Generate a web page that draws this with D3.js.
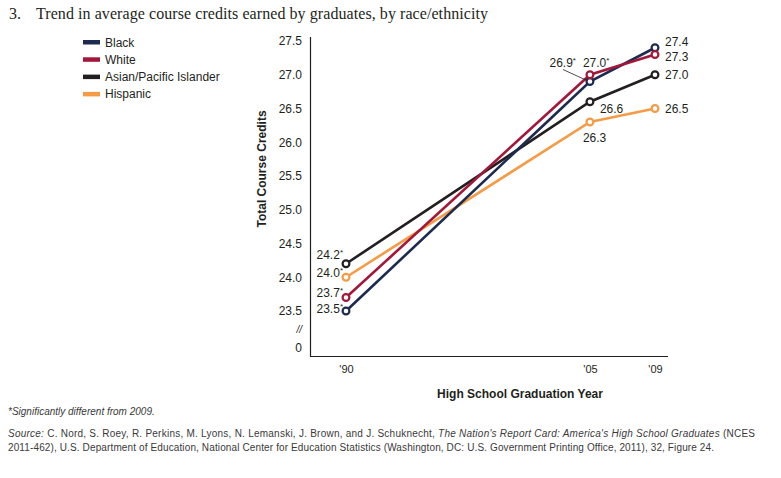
<!DOCTYPE html>
<html><head><meta charset="utf-8">
<script src="https://cdn.jsdelivr.net/npm/d3@7"></script>
<style>body{margin:0;background:#fff}svg{display:block}</style>
</head><body><svg id="c" width="781" height="478"></svg>
<script>
const years = [1990, 2005, 2009];
const yearLabels = ["'90", "'05", "'09"];
const seriesNames = ["Black", "White", "Asian/Pacific Islander", "Hispanic"];
const seriesColors = ["#1c2b4f", "#a3173a", "#231f20", "#f59b45"];
const black = [23.5, 26.9, 27.4];
const white = [23.7, 27.0, 27.3];
const asian = [24.2, 26.6, 27.0];
const hispanic = [24.0, 26.3, 26.5];
const significant = [[true, true, false], [true, true, false], [true, false, false], [true, false, false]];
const yTicks = [23.5, 24.0, 24.5, 25.0, 25.5, 26.0, 26.5, 27.0, 27.5];
const seriesValues = [black, white, asian, hispanic];

const svg = d3.select("#c");
const font = "'Liberation Sans', Arial, sans-serif";
const x = d3.scaleLinear().domain([1990, 2009]).range([346, 655]);
const y = d3.scaleLinear().domain([23.5, 27.5]).range([311, 41]);

// title
svg.append("text").attr("x", 9).attr("y", 19).attr("font-family", "'Liberation Serif', serif")
  .attr("font-size", 16).attr("fill", "#231f20").text("3.");
svg.append("text").attr("x", 36).attr("y", 19).attr("font-family", "'Liberation Serif', serif")
  .attr("font-size", 16).attr("fill", "#231f20").attr("textLength", 452)
  .text("Trend in average course credits earned by graduates, by race/ethnicity");

// legend
const lg = svg.append("g");
seriesNames.forEach((n, i) => {
  const yy = 42 + i * 17.3;
  lg.append("rect").attr("x", 83).attr("y", yy - 2).attr("width", 17).attr("height", 4.5).attr("fill", seriesColors[i]);
  lg.append("text").attr("x", 105).attr("y", yy + 4.5).attr("font-family", font).attr("font-size", 12)
    .attr("fill", "#231f20").text(n);
});

// axes
const axisY = svg.append("g").attr("transform", "translate(310,0)")
  .call(d3.axisLeft(y).tickValues(yTicks).tickFormat(d3.format(".1f")).tickSize(0).tickPadding(8));
axisY.select(".domain").remove();
axisY.selectAll("text").attr("font-family", font).attr("font-size", 12).attr("fill", "#231f20");
svg.append("line").attr("x1", 310.5).attr("x2", 310.5).attr("y1", 37).attr("y2", 356.5).attr("stroke", "#231f20").attr("stroke-width", 1.2);
svg.append("line").attr("x1", 310).attr("x2", 668).attr("y1", 356.5).attr("y2", 356.5).attr("stroke", "#231f20").attr("stroke-width", 1.2);
svg.append("text").attr("x", 302).attr("y", 333).attr("text-anchor", "end").attr("font-family", font)
  .attr("font-size", 10).attr("font-style", "italic").attr("fill", "#231f20").text("//");
svg.append("text").attr("x", 302).attr("y", 351.5).attr("text-anchor", "end").attr("font-family", font)
  .attr("font-size", 12).attr("fill", "#231f20").text("0");

const axisX = svg.append("g").attr("transform", "translate(0,356)")
  .call(d3.axisBottom(x).tickValues(years).tickFormat((d, i) => yearLabels[i]).tickSize(0).tickPadding(9));
axisX.select(".domain").remove();
axisX.selectAll("text").attr("font-family", font).attr("font-size", 11).attr("fill", "#231f20");

svg.append("text").attr("x", 520).attr("y", 398).attr("text-anchor", "middle").attr("font-family", font)
  .attr("font-size", 12).attr("font-weight", "bold").attr("fill", "#231f20").text("High School Graduation Year");
svg.append("text").attr("transform", "translate(266,169) rotate(-90)").attr("text-anchor", "middle")
  .attr("font-family", font).attr("font-size", 12).attr("font-weight", "bold").attr("fill", "#231f20")
  .text("Total Course Credits");

// lines
const line = d3.line().x((d, i) => x(years[i])).y(d => y(d));
const drawOrder = [3, 2, 0, 1];
drawOrder.forEach(s => {
  svg.append("path").datum(seriesValues[s]).attr("d", line).attr("fill", "none")
    .attr("stroke", seriesColors[s]).attr("stroke-width", 2.6);
});
drawOrder.forEach(s => {
  svg.selectAll(null).data(seriesValues[s]).enter().append("circle")
    .attr("cx", (d, i) => x(years[i])).attr("cy", d => y(d)).attr("r", 3.4)
    .attr("fill", "#fff").attr("stroke", seriesColors[s]).attr("stroke-width", 2.2);
});

// value labels: [series, index, dx, dy, anchor]
const labelSpecs = [
  [2, 0, -3, -5, "end"], [3, 0, -3, 0, "end"], [1, 0, -3, -1, "end"], [0, 0, -3, 2, "end"],
  [0, 1, -14, -15, "end"], [1, 1, -7, -8, "start"], [2, 1, 10, 11, "start"], [3, 1, -7, 20, "start"],
  [0, 2, 10, -2, "start"], [1, 2, 10, 6, "start"], [2, 2, 10, 4, "start"], [3, 2, 10, 4, "start"]
];
labelSpecs.forEach(([s, i, dx, dy, anchor]) => {
  const v = seriesValues[s][i];
  const t = svg.append("text").attr("x", x(years[i]) + dx).attr("y", y(v) + dy)
    .attr("text-anchor", anchor).attr("font-family", font).attr("font-size", 12).attr("fill", "#231f20");
  t.append("tspan").text(d3.format(".1f")(v));
  if (significant[s][i]) t.append("tspan").attr("font-size", 8).attr("dy", -4).text("*");
});
// leader for 26.9
svg.append("line").attr("x1", x(2005) - 27).attr("y1", y(26.9) - 12).attr("x2", x(2005) - 3).attr("y2", y(26.9) - 1)
  .attr("stroke", "#231f20").attr("stroke-width", 0.8);

// footnotes
svg.append("text").attr("x", 8).attr("y", 415).attr("font-family", font).attr("font-size", 10)
  .attr("font-style", "italic").attr("fill", "#3a3a3a").text("*Significantly different from 2009.");
const src = svg.append("text").attr("x", 8).attr("y", 437).attr("font-family", font).attr("font-size", 10)
  .attr("fill", "#3a3a3a").attr("textLength", 747);
src.append("tspan").attr("font-style", "italic").text("Source:");
src.append("tspan").text(" C. Nord, S. Roey, R. Perkins, M. Lyons, N. Lemanski, J. Brown, and J. Schuknecht, ");
src.append("tspan").attr("font-style", "italic").text("The Nation's Report Card: America's High School Graduates");
src.append("tspan").text(" (NCES");
svg.append("text").attr("x", 8).attr("y", 451).attr("font-family", font).attr("font-size", 10)
  .attr("fill", "#3a3a3a").attr("textLength", 706)
  .text("2011-462), U.S. Department of Education, National Center for Education Statistics (Washington, DC: U.S. Government Printing Office, 2011), 32, Figure 24.");
</script></body></html>
